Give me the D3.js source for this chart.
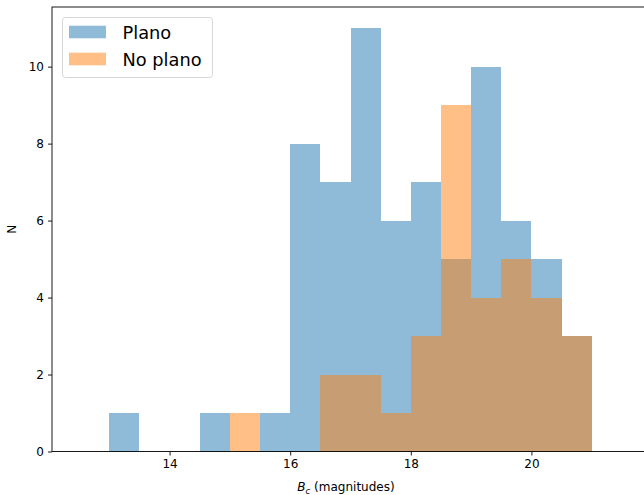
<!DOCTYPE html>
<html>
<head>
<meta charset="utf-8">
<script src="https://cdn.jsdelivr.net/npm/d3@7"></script>
<style>
  body { margin: 0; background: #fff; }
  svg { display: block; font-family: "DejaVu Sans", sans-serif; }
</style>
</head>
<body>
<div id="chart"></div>
<script>
// bin edges (0.5 mag wide) and counts per bin
const binEdges = [12.5, 13, 13.5, 14, 14.5, 15, 15.5, 16, 16.5, 17, 17.5, 18, 18.5, 19, 19.5, 20, 20.5, 21, 21.5];
const planoCounts = [0, 1, 0, 0, 1, 0, 1, 8, 7, 11, 6, 7, 5, 10, 6, 5, 3, 0];
const noPlanoCounts = [0, 0, 0, 0, 0, 1, 0, 0, 2, 2, 1, 3, 9, 4, 5, 4, 3, 0];
const seriesNames = ["Plano", "No plano"];
const xTicks = [14, 16, 18, 20];
const yTicks = [0, 2, 4, 6, 8, 10];

const width = 644;
const height = 495;
const margin = { top: 7, right: -5, bottom: 43.5, left: 52 };
const colors = ["#1f77b4", "#ff7f0e"];

const svg = d3.select("#chart")
  .append("svg")
  .attr("width", width)
  .attr("height", height);

const x = d3.scaleLinear()
  .domain([12.05, 21.95])
  .range([margin.left, width - margin.right]);

const y = d3.scaleLinear()
  .domain([0, 11.55])
  .range([height - margin.bottom, margin.top]);

function toBins(counts) {
  return counts.map((c, i) => ({ x0: binEdges[i], x1: binEdges[i + 1], n: c }))
    .filter((d) => d.n > 0);
}

[planoCounts, noPlanoCounts].forEach((counts, i) => {
  svg.append("g")
    .selectAll("rect")
    .data(toBins(counts))
    .enter()
    .append("rect")
    .attr("x", (d) => x(d.x0))
    .attr("width", (d) => x(d.x1) - x(d.x0))
    .attr("y", (d) => y(d.n))
    .attr("height", (d) => y(0) - y(d.n))
    .attr("fill", colors[i])
    .attr("fill-opacity", 0.5)
    .attr("shape-rendering", "crispEdges");
});

// axes
const xAxis = svg.append("g")
  .attr("transform", `translate(0,${y(0)})`)
  .call(d3.axisBottom(x).tickValues(xTicks).tickSize(4).tickPadding(4).tickFormat(d3.format("d")));

const yAxis = svg.append("g")
  .attr("transform", `translate(${margin.left},0)`)
  .call(d3.axisLeft(y).tickValues(yTicks).tickSize(4).tickPadding(4).tickFormat(d3.format("d")));

[xAxis, yAxis].forEach((g) => {
  g.select(".domain").remove();
  g.selectAll("line").attr("stroke", "#000").attr("stroke-width", 0.9);
  g.selectAll("text")
    .attr("fill", "#000")
    .style("font-size", "12px")
    .style("font-family", "DejaVu Sans, sans-serif");
});

// frame
svg.append("rect")
  .attr("x", x.range()[0])
  .attr("y", y.range()[1])
  .attr("width", x.range()[1] - x.range()[0])
  .attr("height", y.range()[0] - y.range()[1])
  .attr("fill", "none")
  .attr("stroke", "#000")
  .attr("stroke-width", 0.9);

// axis labels
svg.append("text")
  .attr("transform", `translate(16,${(y.range()[0] + y.range()[1]) / 2}) rotate(-90)`)
  .attr("text-anchor", "middle")
  .attr("font-size", 12)
  .text("N");

const xLabel = svg.append("text")
  .attr("x", 346)
  .attr("y", 491)
  .attr("text-anchor", "middle")
  .attr("font-size", 12);
xLabel.append("tspan").attr("font-style", "italic").text("B");
xLabel.append("tspan").attr("font-style", "italic").attr("font-size", 8.5).attr("dy", 2.5).text("c");
xLabel.append("tspan").attr("dy", -2.5).text(" (magnitudes)");

// legend
const legend = svg.append("g");
legend.append("rect")
  .attr("x", 62.5)
  .attr("y", 17.5)
  .attr("width", 150)
  .attr("height", 60)
  .attr("rx", 3)
  .attr("fill", "#fff")
  .attr("fill-opacity", 0.8)
  .attr("stroke", "#d6d6d6");

seriesNames.forEach((name, i) => {
  const cy = 32 + i * 27;
  legend.append("rect")
    .attr("x", 69)
    .attr("y", cy - 6.3)
    .attr("width", 37)
    .attr("height", 12.6)
    .attr("fill", colors[i])
    .attr("fill-opacity", 0.5);
  legend.append("text")
    .attr("x", 122.5)
    .attr("y", cy + 6.5)
    .attr("font-size", 17.8)
    .attr("fill", "#000")
    .text(name);
});
</script>
</body>
</html>
